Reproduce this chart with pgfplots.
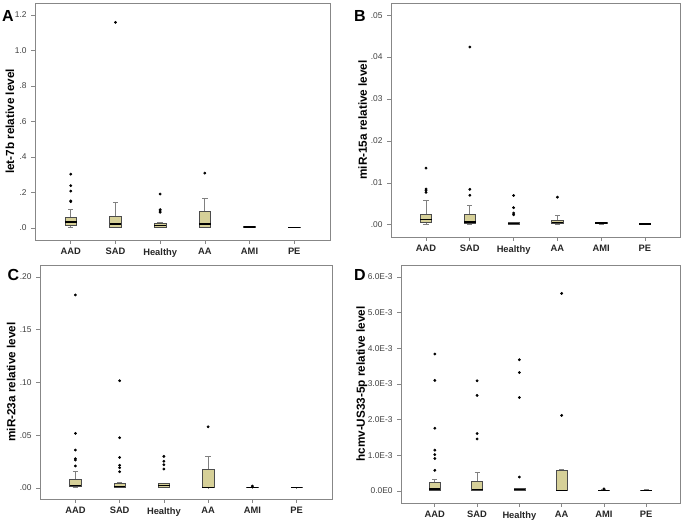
\documentclass[border=0pt]{standalone}
\usepackage{pgfplots}
\pgfplotsset{compat=1.18}
\usepgfplotslibrary{statistics}
\usepackage{fontspec}
\setmainfont{Liberation Sans}
\definecolor{boxfill}{RGB}{214,208,152}
\definecolor{framegray}{RGB}{135,135,135}

\pgfplotsset{
  spss/.style={
    scale only axis,
    xmin=-0.8,xmax=5.8,
    xtick={0,1,2,3,4,5},
    xticklabels={AAD,SAD,Healthy,AA,AMI,PE},
    xtick pos=bottom,ytick pos=left,
    tick align=outside,
    major tick length=2.8pt,
    axis line style={framegray,line width=0.7pt},
    tick style={framegray,line width=0.5pt},
    x tick label style={font=\fontsize{7}{8}\selectfont\bfseries,text=black!85},
    y tick label style={font=\fontsize{6.3}{7}\selectfont,text=black!75},
    ylabel style={font=\fontsize{8.8}{10}\selectfont\bfseries,anchor=south},
    scaled y ticks=false,
    clip=false,
  },
  bp/.style={
    solid,black,mark=*,mark size=0.85pt,
    mark options={fill=black,draw=black},
    boxplot/draw direction=y,
    boxplot/box extend=0.26,
    boxplot/whisker extend=0.12,
    boxplot/every box/.style={draw=black!70,fill=boxfill,line width=0.5pt},
    boxplot/every whisker/.style={draw=gray,line width=0.7pt},
    boxplot/every median/.style={draw=black,line width=1.1pt},
  },
}

\begin{document}
\begin{tikzpicture}
\useasboundingbox (0,0) rectangle (513.75pt,390pt);

% A: let-7b (values as read)
\begin{axis}[spss,at={(26.25pt,210pt)},anchor=south west,
  width=221.25pt,height=177.75pt,
  ymin=-0.068,ymax=1.268,
  ytick={0,0.2,0.4,0.6,0.8,1.0,1.2},
  yticklabels={.0,.2,.4,.6,.8,1.0,1.2},
  ylabel={let-7b relative level},
  ylabel style={at={(axis description cs:-0.054,0.5)}}]
\addplot[bp,boxplot prepared={draw position=0,lower whisker=0.002,lower quartile=0.013,median=0.034,upper quartile=0.062,upper whisker=0.105}]
  table[y index=0,row sep=\\]{v\\0.303\\0.238\\0.208\\0.152\\0.148\\};
\addplot[bp,boxplot prepared={draw position=1,lower whisker=0.002,lower quartile=0.006,median=0.021,upper quartile=0.067,upper whisker=0.146}]
  table[y index=0,row sep=\\]{v\\1.159\\};
\addplot[bp,boxplot prepared={draw position=2,lower whisker=0.002,lower quartile=0.004,median=0.013,upper quartile=0.028,upper whisker=0.030}]
  table[y index=0,row sep=\\]{v\\0.191\\0.103\\0.095\\0.088\\};
\addplot[bp,boxplot prepared={draw position=3,lower whisker=0.002,lower quartile=0.006,median=0.022,upper quartile=0.092,upper whisker=0.165}]
  table[y index=0,row sep=\\]{v\\0.309\\};
\addplot[bp,boxplot prepared={draw position=4,lower whisker=0.002,lower quartile=0.004,median=0.006,upper quartile=0.008,upper whisker=0.011}]
  coordinates {};
\addplot[bp,boxplot prepared={draw position=5,lower whisker=0.002,lower quartile=0.0025,median=0.003,upper quartile=0.0035,upper whisker=0.004}]
  coordinates {};
\end{axis}

% B: miR-15a, values x100
\begin{axis}[spss,at={(293.25pt,212.25pt)},anchor=south west,
  width=216.75pt,height=175.5pt,
  ymin=-0.29,ymax=5.29,
  ytick={0,1,2,3,4,5},
  yticklabels={.00,.01,.02,.03,.04,.05},
  ylabel={miR-15a relative level},
  ylabel style={at={(axis description cs:-0.067,0.5)}}]
\addplot[bp,boxplot prepared={draw position=0,lower whisker=0.0,lower quartile=0.06,median=0.127,upper quartile=0.26,upper whisker=0.57}]
  table[y index=0,row sep=\\]{v\\1.353\\0.854\\0.823\\0.775\\};
\addplot[bp,boxplot prepared={draw position=1,lower whisker=0.0,lower quartile=0.03,median=0.07,upper quartile=0.26,upper whisker=0.46}]
  table[y index=0,row sep=\\]{v\\4.24\\0.847\\0.704\\};
\addplot[bp,boxplot prepared={draw position=2,lower whisker=0.01,lower quartile=0.015,median=0.03,upper quartile=0.05,upper whisker=0.06}]
  table[y index=0,row sep=\\]{v\\0.70\\0.41\\0.28\\0.24\\};
\addplot[bp,boxplot prepared={draw position=3,lower whisker=0.01,lower quartile=0.03,median=0.05,upper quartile=0.11,upper whisker=0.22}]
  table[y index=0,row sep=\\]{v\\0.66\\};
\addplot[bp,boxplot prepared={draw position=4,lower whisker=0.02,lower quartile=0.03,median=0.04,upper quartile=0.05,upper whisker=0.06}]
  coordinates {};
\addplot[bp,boxplot prepared={draw position=5,lower whisker=0.01,lower quartile=0.015,median=0.02,upper quartile=0.025,upper whisker=0.03}]
  coordinates {};
\end{axis}

% C: miR-23a, values x100
\begin{axis}[spss,at={(30pt,15.75pt)},anchor=south west,
  width=219pt,height=175.5pt,
  ymin=-1.04,ymax=21.14,
  ytick={0,5,10,15,20},
  yticklabels={.00,.05,.10,.15,.20},
  ylabel={miR-23a relative level},
  ylabel style={at={(axis description cs:-0.068,0.5)}}]
\addplot[bp,boxplot prepared={draw position=0,lower whisker=0.03,lower quartile=0.13,median=0.25,upper quartile=0.85,upper whisker=1.61}]
  table[y index=0,row sep=\\]{v\\18.3\\5.18\\3.6\\2.78\\2.65\\2.09\\};
\addplot[bp,boxplot prepared={draw position=1,lower whisker=0.02,lower quartile=0.06,median=0.16,upper quartile=0.47,upper whisker=0.5}]
  table[y index=0,row sep=\\]{v\\10.17\\4.77\\2.9\\2.15\\1.93\\1.55\\};
\addplot[bp,boxplot prepared={draw position=2,lower whisker=0.02,lower quartile=0.06,median=0.25,upper quartile=0.44,upper whisker=0.45}]
  table[y index=0,row sep=\\]{v\\3.0\\2.53\\2.21\\1.8\\};
\addplot[bp,boxplot prepared={draw position=3,lower whisker=0.02,lower quartile=0.03,median=0.05,upper quartile=1.8,upper whisker=2.97}]
  table[y index=0,row sep=\\]{v\\5.8\\};
\addplot[bp,boxplot prepared={draw position=4,lower whisker=0.01,lower quartile=0.03,median=0.05,upper quartile=0.07,upper whisker=0.09}]
  table[y index=0,row sep=\\]{v\\0.18\\};
\addplot[bp,boxplot prepared={draw position=5,lower whisker=0.02,lower quartile=0.03,median=0.04,upper quartile=0.05,upper whisker=0.06}]
  coordinates {};
\end{axis}

% D: hcmv-US33-5p, values x1000
\begin{axis}[spss,at={(300.75pt,12.75pt)},anchor=south west,
  width=209.25pt,height=178.5pt,
  ymin=-0.336,ymax=6.336,
  ytick={0,1,2,3,4,5,6},
  yticklabels={0.0E0,1.0E-3,2.0E-3,3.0E-3,4.0E-3,5.0E-3,6.0E-3},
  ylabel={hcmv-US33-5p relative level},
  ylabel style={at={(axis description cs:-0.104,0.5)}}]
\addplot[bp,boxplot prepared={draw position=0,lower whisker=0.01,lower quartile=0.02,median=0.056,upper quartile=0.245,upper whisker=0.31}]
  table[y index=0,row sep=\\]{v\\3.84\\3.1\\1.76\\1.145\\1.02\\0.91\\0.58\\};
\addplot[bp,boxplot prepared={draw position=1,lower whisker=0.01,lower quartile=0.02,median=0.04,upper quartile=0.28,upper whisker=0.525}]
  table[y index=0,row sep=\\]{v\\3.09\\2.68\\1.61\\1.46\\};
\addplot[bp,boxplot prepared={draw position=2,lower whisker=0.01,lower quartile=0.02,median=0.04,upper quartile=0.066,upper whisker=0.08}]
  table[y index=0,row sep=\\]{v\\3.68\\3.32\\2.62\\0.39\\};
\addplot[bp,boxplot prepared={draw position=3,lower whisker=0.01,lower quartile=0.01,median=0.02,upper quartile=0.59,upper whisker=0.59}]
  table[y index=0,row sep=\\]{v\\5.54\\2.12\\};
\addplot[bp,boxplot prepared={draw position=4,lower whisker=0.01,lower quartile=0.015,median=0.02,upper quartile=0.03,upper whisker=0.04}]
  table[y index=0,row sep=\\]{v\\0.06\\};
\addplot[bp,boxplot prepared={draw position=5,lower whisker=0.01,lower quartile=0.015,median=0.02,upper quartile=0.025,upper whisker=0.03}]
  coordinates {};
\end{axis}

\node[font=\fontsize{12}{13}\selectfont\bfseries] at (6pt,378pt) {A};
\node[font=\fontsize{12}{13}\selectfont\bfseries] at (270pt,378pt) {B};
\node[font=\fontsize{12}{13}\selectfont\bfseries] at (10pt,183.75pt) {C};
\node[font=\fontsize{12}{13}\selectfont\bfseries] at (270pt,183.5pt) {D};
\end{tikzpicture}
\end{document}
